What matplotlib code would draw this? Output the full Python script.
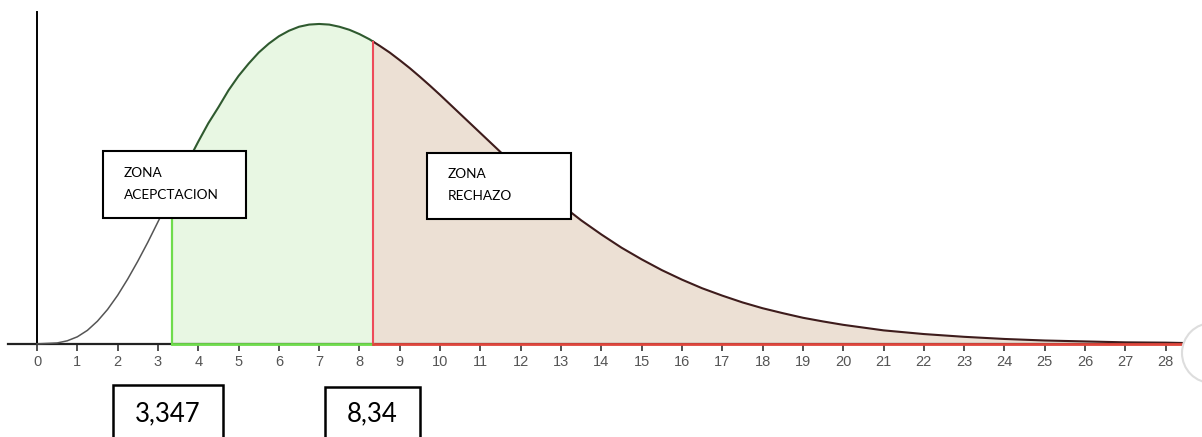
import numpy as np
import matplotlib.pyplot as plt
from matplotlib.patches import Rectangle, Ellipse

# curva (densidad), eje x en unidades del estadistico
x_vals = [0, 0.5, 0.75, 1, 1.25, 1.5, 1.75, 2, 2.25, 2.5, 2.75, 3, 3.25, 3.5, 3.75,
          4, 4.25, 4.5, 4.75, 5, 5.25, 5.5, 5.75, 6, 6.25, 6.5, 6.75, 7, 7.25, 7.5,
          7.75, 8, 8.25, 8.5, 8.75, 9, 9.25, 9.5, 9.75, 10, 10.5, 11, 11.5, 12, 12.5,
          13, 13.5, 14, 14.5, 15, 15.5, 16, 16.5, 17, 17.5, 18, 18.5, 19, 19.5,
          20, 21, 22, 23, 24, 25, 26, 27, 28, 28.4]
dens = [0.0, 0.0003, 0.0010, 0.0023, 0.0044, 0.0074, 0.0112, 0.0158, 0.0211, 0.0269,
        0.0331, 0.0397, 0.0463, 0.0530, 0.0595, 0.0658, 0.0718, 0.0770, 0.0825, 0.0872,
        0.0912, 0.0948, 0.0977, 0.1001, 0.1019, 0.1032, 0.1039, 0.1041, 0.1039, 0.1032,
        0.1022, 0.1008, 0.0991, 0.0970, 0.0948, 0.0923, 0.0897, 0.0869, 0.0840, 0.0810,
        0.0748, 0.0686, 0.0624, 0.0564, 0.0507, 0.0453, 0.0402, 0.0356, 0.0313, 0.0275,
        0.0240, 0.0209, 0.0181, 0.0157, 0.0135, 0.0116, 0.0100, 0.0085, 0.0073, 0.0062,
        0.0044, 0.0032, 0.0023, 0.0016, 0.0011, 0.0008, 0.0005, 0.0004, 0.0003]

lim_inf = 3.347
lim_sup = 8.34
x_fin = 28.4
ticks = list(range(0, 29))

etiq_acept = ["ZONA", "ACEPCTACION"]
etiq_rech = ["ZONA", "RECHAZO"]
txt_inf = "3,347"
txt_sup = "8,34"

W, H = 1202, 437
fig = plt.figure(figsize=(W / 100, H / 100), dpi=100)
ax = fig.add_axes([0, 0, 1, 1])
ax.set_xlim(-0.918, 28.9)
ax.set_ylim(-0.0303, 0.1119)

xs = np.asarray(x_vals)
ys = np.asarray(dens)


def tramo(a, b):
    m = (xs > a) & (xs < b)
    xx = np.concatenate([[a], xs[m], [b]])
    return xx, np.interp(xx, xs, ys)


# tramo izquierdo (sin zona)
x0, y0 = tramo(0, lim_inf)
ax.plot(x0, y0, color='#555555', lw=1.1, zorder=3)

# zona de aceptacion
x1, y1 = tramo(lim_inf, lim_sup)
ax.fill_between(x1, 0, y1, color='#e8f7e3', zorder=1)
ax.plot(x1, y1, color='#2f5a2f', lw=1.5, zorder=3)
ax.plot([lim_inf, lim_inf], [0, y1[0]], color='#6fdc4c', lw=1.6, zorder=3)
ax.plot([lim_inf, lim_sup], [0, 0], color='#6fdc4c', lw=2, zorder=4)

# zona de rechazo
x2, y2 = tramo(lim_sup, x_fin)
ax.fill_between(x2, 0, y2, color='#ece0d4', zorder=1)
ax.plot(x2, y2, color='#3e1c1c', lw=1.5, zorder=3)
ax.plot([lim_sup, lim_sup], [0, y2[0]], color='#ee4a5a', lw=1.5, zorder=3)
ax.plot([lim_sup, x_fin], [0, 0], color='#e0463c', lw=2, zorder=4)

# ejes
for s in ['top', 'right']:
    ax.spines[s].set_visible(False)
ax.spines['bottom'].set_position(('data', 0))
ax.spines['bottom'].set_bounds(-0.73, x_fin)
ax.spines['bottom'].set_linewidth(1.6)
ax.spines['bottom'].set_color('#222222')
ax.spines['left'].set_position(('data', 0))
ax.spines['left'].set_bounds(0, 0.108)
ax.spines['left'].set_linewidth(1.4)
ax.set_yticks([])
ax.set_xticks(ticks)
ax.set_xticklabels([str(t) for t in ticks], fontfamily='Liberation Sans')
ax.tick_params(axis='x', direction='out', length=5, width=1.2, color='#333333',
               labelcolor='#555555', labelsize=10.5, pad=3)


def caja(px, py, pw, ph, lw=1.5):
    r = Rectangle((px / W, 1 - (py + ph) / H), pw / W, ph / H, transform=fig.transFigure,
                  facecolor='white', edgecolor='black', lw=lw, zorder=6, clip_on=False)
    fig.patches.append(r)


# cuadros de texto
caja(103, 151, 143, 67)
fig.text(124 / W, 1 - 173 / H, etiq_acept[0], fontfamily='Lato', fontsize=9.8, va='center', zorder=7)
fig.text(124 / W, 1 - 195 / H, etiq_acept[1], fontfamily='Lato', fontsize=9.8, va='center', zorder=7)

caja(427, 153, 144, 66)
fig.text(448 / W, 1 - 174 / H, etiq_rech[0], fontfamily='Lato', fontsize=9.8, va='center', zorder=7)
fig.text(448 / W, 1 - 196 / H, etiq_rech[1], fontfamily='Lato', fontsize=9.8, va='center', zorder=7)

caja(113, 385, 110, 70, lw=1.8)
fig.text(168 / W, 1 - 414 / H, txt_inf, fontfamily='Lato', fontsize=18.5, ha='center', va='center', zorder=7)
caja(325, 387, 95, 70, lw=1.8)
fig.text(372 / W, 1 - 414 / H, txt_sup, fontfamily='Lato', fontsize=18.5, ha='center', va='center', zorder=7)

# boton recortado a la derecha
fig.patches.append(Ellipse((1212 / W, 1 - 353 / H), 60 / W, 60 / H, transform=fig.transFigure,
                           facecolor='white', edgecolor='#dddddd', lw=1.5, zorder=5))

fig.savefig('out.png', dpi=100)
